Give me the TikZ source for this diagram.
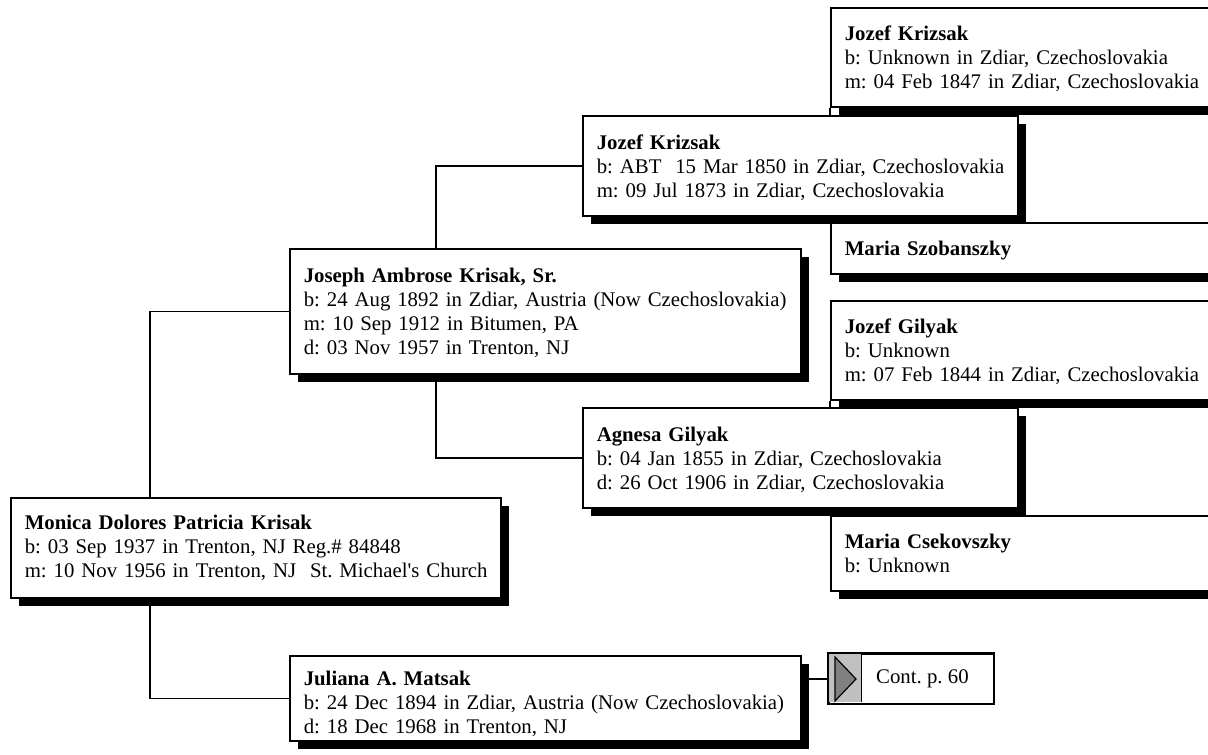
\documentclass[tikz,border=0pt]{standalone}
\usepackage{fontspec}
\setmainfont{Liberation Serif}[Ligatures=TeXOff]
\usetikzlibrary{shadows,backgrounds}
\definecolor{contgray}{HTML}{C0C0C0}
\definecolor{arrowgray}{HTML}{808080}
\newcommand\famtab[2][-2.5pt]{\raisebox{#1}[\height][\depth]{\begin{tabular}{@{}l@{}}#2\end{tabular}}}
\frenchspacing
\tikzset{
  person/.style={draw, line width=1.5pt, fill=white, anchor=north west, align=left,
    inner xsep=14pt, inner ysep=0pt, font=\fontsize{20.8}{24}\selectfont\frenchspacing,
    general shadow={fill=black, draw=none, shadow xshift=8pt, shadow yshift=-8pt}},
  link/.style={line width=1.5pt},
}
\begin{document}
\begin{tikzpicture}[x=1pt,y=-1pt]
\useasboundingbox (0,0) rectangle (1208,755);
\clip (0,0) rectangle (1208,755);
% generation 4
\node[person, text width=372, minimum height=99] (f4a) at (830,7)
  {\famtab{\textbf{Jozef Krizsak}\\ b: Unknown in Zdiar, Czechoslovakia\\ m: 04 Feb 1847 in Zdiar, Czechoslovakia}};
\node[person, text width=372, minimum height=51] (m4a) at (830,222)
  {\famtab{\textbf{Maria Szobanszky}}};
\node[person, text width=372, minimum height=99] (f4b) at (830,300)
  {\famtab{\textbf{Jozef Gilyak}\\ b: Unknown\\ m: 07 Feb 1844 in Zdiar, Czechoslovakia}};
\node[person, text width=372, minimum height=75] (m4b) at (830,515)
  {\famtab{\textbf{Maria Csekovszky}\\ b: Unknown}};
% generation 3
\node[person, text width=407, minimum height=100] (f3) at (582,115)
  {\famtab{\textbf{Jozef Krizsak}\\ b: ABT\ \ 15 Mar 1850 in Zdiar, Czechoslovakia\\ m: 09 Jul 1873 in Zdiar, Czechoslovakia}};
\node[person, text width=407, minimum height=100] (m3) at (582,407)
  {\famtab{\textbf{Agnesa Gilyak}\\ b: 04 Jan 1855 in Zdiar, Czechoslovakia\\ d: 26 Oct 1906 in Zdiar, Czechoslovakia}};
% generation 2
\node[person, text width=483, minimum height=125] (f2) at (289,248)
  {\famtab{\textbf{Joseph Ambrose Krisak, Sr.}\\ b: 24 Aug 1892 in Zdiar, Austria (Now Czechoslovakia)\\ m: 10 Sep 1912 in Bitumen, PA\\ d: 03 Nov 1957 in Trenton, NJ}};
\node[person, text width=483, minimum height=85] (m2) at (289,655)
  {\famtab[-6pt]{\textbf{Juliana A. Matsak}\\ b: 24 Dec 1894 in Zdiar, Austria (Now Czechoslovakia)\\ d: 18 Dec 1968 in Trenton, NJ}};
% generation 1
\node[person, text width=462, minimum height=100] (mon) at (10,497)
  {\famtab[-1pt]{\textbf{Monica Dolores Patricia Krisak}\\ b: 03 Sep 1937 in Trenton, NJ Reg.\# 84848\\ m: 10 Nov 1956 in Trenton, NJ\ \ St. Michael's Church}};
% continuation box
\node[draw, line width=1.5pt, fill=white, anchor=north west, minimum width=165, minimum height=50, inner sep=0pt] (cont) at (828,653) {};
\fill[contgray] (829,654) rectangle (861,702);
\draw[line width=1pt] (861,654) -- (861,702);
\filldraw[fill=arrowgray, draw=black, line width=1.2pt, line join=miter] (835,657) -- (856,679) -- (835,701) -- cycle;
\draw[line width=1.5pt] (cont.north west) rectangle (cont.south east);
\node[font=\fontsize{20.8}{24}\selectfont, anchor=west, inner sep=0pt] (conttext) at (876,679) {Cont. p. 60};
% connectors
\begin{scope}[on background layer]
\draw[link] ([xshift=140pt]mon.north west) |- (f2.west);
\draw[link] ([xshift=140pt]mon.south west) |- (m2.west);
\draw[link] ([xshift=147pt]f2.north west) |- (f3.west);
\draw[link] ([xshift=147pt]f2.south west) |- (m3.west);
\draw[link] (f3.north -| f4a.south west) -- (f4a.south west);
\draw[link] (f3.south -| m4a.north west) -- (m4a.north west);
\draw[link] (m3.north -| f4b.south west) -- (f4b.south west);
\draw[link] (m3.south -| m4b.north west) -- (m4b.north west);
\draw[link] (m2.east |- cont.west) -- (cont.west);
\end{scope}
\end{tikzpicture}
\end{document}
